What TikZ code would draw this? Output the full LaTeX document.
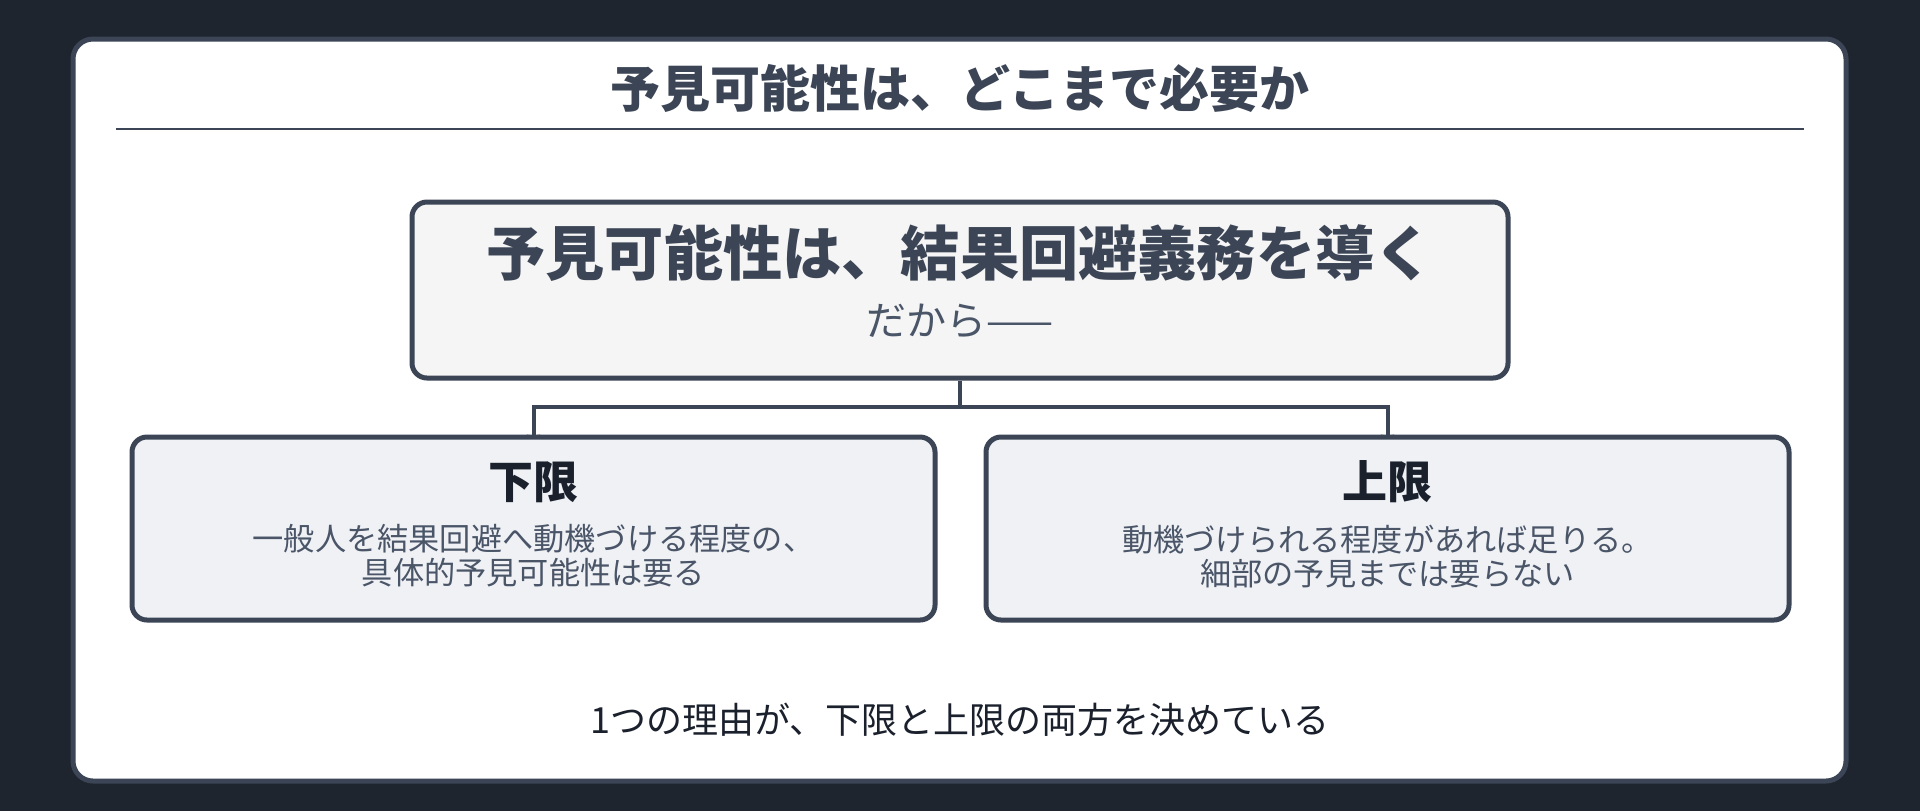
\documentclass[tikz,border=0pt]{standalone}
\usepackage{fontspec}
\setmainfont{Noto Sans CJK JP}
\usepackage{tikz}
\usetikzlibrary{positioning,arrows.meta}

\definecolor{bgdark}{HTML}{1E252F}
\definecolor{frame}{HTML}{3B4555}
\definecolor{topfill}{HTML}{F5F5F5}
\definecolor{lowfill}{HTML}{EFF1F5}
\definecolor{ink}{HTML}{1A202C}
\definecolor{body}{HTML}{4A5568}

\begin{document}
\begin{tikzpicture}[x=0.5pt, y=-0.5pt,
	causebox/.style = {draw=frame, fill=topfill, line width=2.5pt,
		rounded corners=7.5pt, minimum width=548pt, minimum height=88pt},
	limitbox/.style = {draw=frame, fill=lowfill, line width=2.5pt,
		rounded corners=7.5pt, minimum width=401.5pt, minimum height=91.5pt},
	head/.style = {text=ink, font=\fontsize{22.5pt}{27pt}\selectfont\bfseries},
	note/.style = {text=body, align=center, font=\fontsize{15.6pt}{17pt}\selectfont},
	link/.style = {draw=frame, line width=2pt, shorten >=-1.5pt,
		-{Stealth[length=1.5pt,width=7pt]}}]

	% background and panel
	\path[fill=bgdark] (0,0) rectangle (1920,811);
	\useasboundingbox (0,0) rectangle (1920,811);
	\draw[frame, fill=white, line width=2.5pt, rounded corners=10pt]
		(73,39) rectangle (1846,781);

	% title
	\node[text=frame, font=\fontsize{25pt}{30pt}\selectfont\bfseries] (title) at (960,88)
		{予見可能性は、どこまで必要か};
	\draw[frame, line width=1.25pt] (116,129) -- (1804,129);

	% reason
	\node[causebox] (cause) at (960,290) {};
	\node[text=frame, font=\fontsize{29.6pt}{34pt}\selectfont\bfseries] (causetext) at (960,253)
		{予見可能性は、結果回避義務を導く};
	\node[text=body, font=\fontsize{20pt}{24pt}\selectfont] (therefore) at (960,321)
		{だから——};

	% limits
	\node[limitbox] (lower) at (533.5,528.5) {};
	\node[limitbox] (upper) at (1387.5,528.5) {};
	\node[head] (lowerhead) at (533.5,482) {下限};
	\node[note, below=4pt of lowerhead] (lowernote)
		{一般人を結果回避へ動機づける程度の、\\具体的予見可能性は要る};
	\node[head] (upperhead) at (1387.5,482) {上限};
	\node[note, below=4pt of upperhead] (uppernote)
		{動機づけられる程度があれば足りる。\\細部の予見までは要らない};

	% fork
	\coordinate (fork) at (960,407);
	\draw[link] (cause.south) -- (fork) -| (lower.north);
	\draw[link] (fork) -| (upper.north);

	% conclusion
	\node[text=ink, font=\fontsize{18pt}{22pt}\selectfont] (summary) at (960,720)
		{1つの理由が、下限と上限の両方を決めている};
\end{tikzpicture}
\end{document}
